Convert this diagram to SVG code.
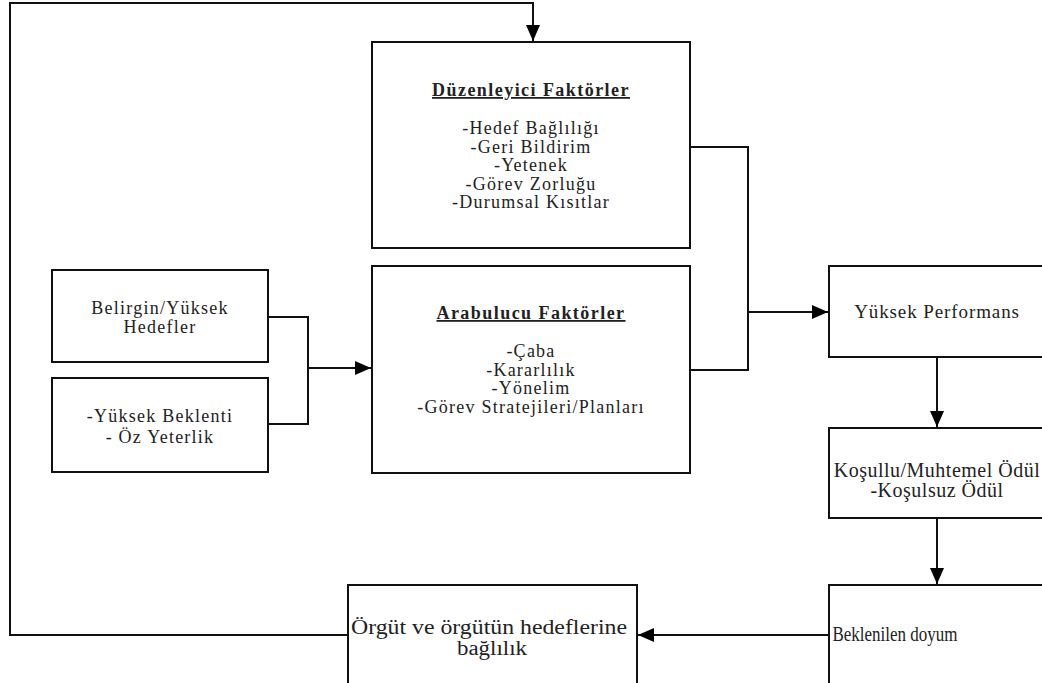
<svg xmlns="http://www.w3.org/2000/svg" width="1042" height="683" viewBox="0 0 1042 683">
<style>
.box{fill:#fff;stroke:#111;stroke-width:2}
text{font-family:'Liberation Serif','Times New Roman','DejaVu Serif',serif;font-size:18px;fill:#222;text-anchor:middle;letter-spacing:1.25px}
.h{font-weight:bold;text-decoration:underline;letter-spacing:1.45px}
.p{font-size:19px;letter-spacing:0.9px}
.k{font-size:20px;letter-spacing:0.5px}
.n{font-size:20px;letter-spacing:0}
.ln{fill:none;stroke:#111;stroke-width:2}
</style>
<defs>
<marker id="ar" viewBox="0 0 16 14" refX="16" refY="7" markerWidth="16" markerHeight="14" markerUnits="userSpaceOnUse" orient="auto">
<path d="M0,0 L16,7 L0,14 Z" fill="#000"/>
</marker>
</defs>
<rect width="1042" height="683" fill="#fff"/>
<g id="connectors">
<path class="ln" d="M348,635 H10 V3 H533 V41" marker-end="url(#ar)"/>
<path class="ln" d="M268,317 H308 V424 H268"/>
<path class="ln" d="M308,368 H371" marker-end="url(#ar)"/>
<path class="ln" d="M690,147 H748 V370 H690"/>
<path class="ln" d="M748,312 H828" marker-end="url(#ar)"/>
<path class="ln" d="M937,357 V427" marker-end="url(#ar)"/>
<path class="ln" d="M937,518 V584" marker-end="url(#ar)"/>
<path class="ln" d="M829,635 H638" marker-end="url(#ar)"/>
</g>
<g id="duzenleyici">
<rect class="box" x="372" y="42" width="318" height="206"/>
<text class="h" x="531" y="96">Düzenleyici Faktörler</text>
<text x="531" y="134">-Hedef Bağlılığı</text>
<text x="531" y="152.5">-Geri Bildirim</text>
<text x="531" y="171">-Yetenek</text>
<text x="531" y="189.5">-Görev Zorluğu</text>
<text x="531" y="208">-Durumsal Kısıtlar</text>
</g>
<g id="arabulucu">
<rect class="box" x="372" y="266" width="318" height="207"/>
<text class="h" x="531" y="319">Arabulucu Faktörler</text>
<text x="531" y="357">-Çaba</text>
<text x="531" y="375.5">-Kararlılık</text>
<text x="531" y="394">-Yönelim</text>
<text x="531" y="412.5">-Görev Stratejileri/Planları</text>
</g>
<g id="belirgin">
<rect class="box" x="52" y="270" width="216" height="92"/>
<text x="160" y="314">Belirgin/Yüksek</text>
<text x="160" y="333">Hedefler</text>
</g>
<g id="beklenti">
<rect class="box" x="52" y="378" width="216" height="94"/>
<text x="160" y="422">-Yüksek Beklenti</text>
<text x="160" y="443">- Öz Yeterlik</text>
</g>
<g id="performans">
<rect class="box" x="829" y="266" width="230" height="91"/>
<text class="p" x="937" y="318">Yüksek Performans</text>
</g>
<g id="odul">
<rect class="box" x="829" y="428" width="230" height="90"/>
<text class="k" x="937" y="477">Koşullu/Muhtemel Ödül</text>
<text class="k" x="937" y="497">-Koşulsuz Ödül</text>
</g>
<g id="doyum">
<rect class="box" x="829" y="585" width="230" height="110"/>
<text class="n" x="895" y="641" textLength="125" lengthAdjust="spacingAndGlyphs">Beklenilen doyum</text>
</g>
<g id="orgut">
<rect class="box" x="348" y="585" width="289" height="110"/>
<text class="n" x="489" y="634" textLength="276" lengthAdjust="spacingAndGlyphs">Örgüt ve örgütün hedeflerine</text>
<text class="n" x="492" y="655" textLength="70" lengthAdjust="spacingAndGlyphs">bağlılık</text>
</g>
</svg>
